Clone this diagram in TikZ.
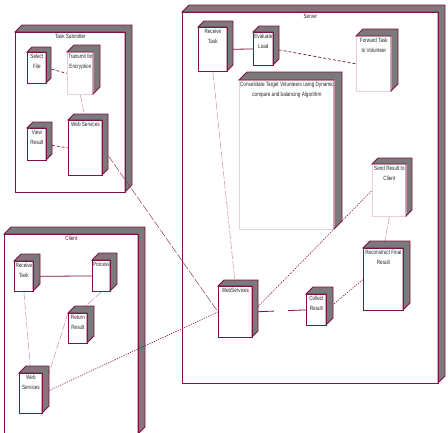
\documentclass[tikz,border=0pt]{standalone}
\usepackage{fontspec}
\setmainfont{Liberation Sans}[FakeStretch=0.76]
\definecolor{mar}{RGB}{128,16,72}
\definecolor{shd}{RGB}{122,122,122}
\definecolor{pnk}{RGB}{205,140,175}
\definecolor{lpnk}{RGB}{238,205,220}
\pgfdeclarelayer{pkg}\pgfdeclarelayer{conn}
\pgfsetlayers{pkg,conn,main}
\tikzset{
 frontbox/.style={fill=white, line width=0.8pt, inner sep=0pt, anchor=north west},
 lbl/.style={font=\fontsize{6.1}{9.8}\selectfont, align=center, text=black!85, inner sep=1pt, anchor=north, yshift=-1.2pt},
 solidc/.style={draw=mar, line width=0.8pt},
 dashc/.style={draw=mar, line width=0.7pt, dash pattern=on 3pt off 2pt},
 pinkc/.style={draw=pnk, line width=0.5pt, dash pattern=on 8pt off 2pt},
 dotc/.style={draw=mar, line width=0.6pt, dash pattern=on 1.2pt off 1.2pt},
}
% #1 front colour, #2 name, #3 x, #4 y, #5 w, #6 h, #7 depth, #8 text
\newcommand\dnode[8][mar]{%
 \fill[shd] (#3,#4) -- ++(#7,-#7) -- ++(#5,0) -- ++(0,#6) -- ++(-#7,#7) -- ++(0,-#6) -- cycle;
 \node[frontbox, draw=#1, minimum width=#5, minimum height=#6, label={[lbl]north:{#8}}] (#2) at (#3,#4) {};
 \draw[mar, line width=0.8pt] (#3,#4) -- ++(#7,-#7) -- ++(#5,0) -- ++(0,#6) -- ++(-#7,#7) -- ++(0,-#6) -- cycle;
}
\begin{document}
\begin{tikzpicture}[x=1pt,y=-1pt]
\useasboundingbox (0,0) rectangle (448,432);
\begin{pgfonlayer}{pkg}
\dnode{tspkg}{15}{32}{110}{160}{7}{Task Submitter}
\dnode{srvpkg}{182}{12}{256}{371}{7}{Server}
\dnode{clpkg}{4}{234}{134}{200}{7}{Client}
\end{pgfonlayer}
% Task Submitter
\dnode{selfile}{27}{52}{19}{31}{5}{Select\\File}
\dnode[lpnk]{encr}{67}{52}{26}{42}{7}{Transmit for\\Encryption}
\dnode{viewres}{27}{128}{19}{32}{6}{View\\Result}
\dnode{tsws}{68}{120}{34}{55}{6}{Web Services}
% Server
\dnode{rtask}{198}{27}{29}{44}{6}{Receive\\Task}
\dnode{evload}{253}{32}{20}{33}{6}{Evaluate\\Load}
\dnode[lpnk]{fwd}{356}{36}{35}{55}{7}{Forward Task\\to Volunteer}
\dnode[lpnk]{consol}{239}{80}{95}{149}{8}{Consolidate Target Volunteers using Dynamic\\compare and balancing Algorithm}
\dnode[lpnk]{sendres}{372}{164}{34}{52}{6}{Send Result to\\Client}
\dnode{recon}{363}{248}{40}{62}{7}{Reconstruct Final\\Result}
\dnode{collect}{306}{294}{20}{31}{7}{Collect\\Result}
\dnode{sws}{218}{286}{34}{51}{6}{WebServices}
% Client
\dnode{crtask}{14}{261}{19}{30}{7}{Receive\\Task}
\dnode{process}{92}{260}{18}{31}{7}{Process}
\dnode{retres}{68}{313}{19}{30}{7}{Return\\Result}
\dnode{cws}{19}{373}{23}{40}{7}{Web\\Services}
\begin{pgfonlayer}{conn}
\draw[dashc] (selfile.east) -- (encr.west);
\draw[pinkc] (encr.south) -- (tsws.north);
\draw[dashc] (viewres.east) -- (tsws.west);
\draw[pinkc, draw=mar!70!pnk] (tsws.east) -- (sws.west);
\draw[dotc] (cws.east) -- (sws.west);
\draw[solidc] (crtask.east) -- (process.west);
\draw[pinkc] (crtask.south) -- (cws.north);
\draw[pinkc] (process.south) -- (retres.north);
\draw[pinkc] (retres.north west) -- (cws.east);
\draw[pinkc] (rtask.south) -- (sws.north);
\draw[solidc] (rtask.east) -- (evload.west);
\draw[dashc] (evload.east) -- (fwd.west);
\draw[dotc] (sws.east) -- (sendres.west);
\draw[solidc, dash pattern=on 21pt off 14pt on 60pt] (sws.east) -- (collect.west);
\draw[dotc] (collect.east) -- (recon.west);
\draw[pinkc] (sendres.south) -- (recon.north);
\end{pgfonlayer}
\end{tikzpicture}
\end{document}
